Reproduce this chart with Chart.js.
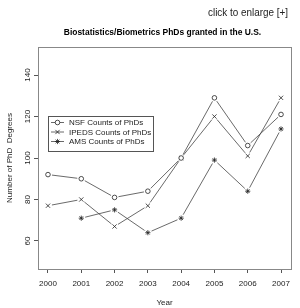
<!DOCTYPE html>
<html>
<head>
<meta charset="utf-8">
<script src="https://cdn.jsdelivr.net/npm/chart.js@4.4.0/dist/chart.umd.min.js"></script>
<style>
  body { margin: 0; background: #fff; }
  #wrap { position: relative; width: 300px; height: 308px; }
  #phdChart { position: absolute; left: 0; top: 0; }
  .enlarge {
    position: absolute; left: 208px; top: 6px; white-space: nowrap;
    font: 11px "Liberation Sans", sans-serif; color: #222;
    transform: scaleX(0.9); transform-origin: left top;
  }
  .title {
    position: absolute; left: 0; width: 325px; top: 27px; text-align: center;
    font: bold 9px "Liberation Sans", sans-serif; color: #000;
    transform: scaleX(0.94); transform-origin: 162.5px 0;
  }
</style>
</head>
<body>
<div id="wrap">
  <canvas id="phdChart" width="300" height="308"></canvas>
  <div class="enlarge">click to enlarge [+]</div>
  <div class="title">Biostatistics/Biometrics PhDs granted in the U.S.</div>
</div>
<script>
const years = [2000, 2001, 2002, 2003, 2004, 2005, 2006, 2007];
const nsfCounts = [92, 90, 81, 84, 100, 129, 106, 121];
const ipedsCounts = [77, 80, 67, 77, 100, 120, 101, 129];
const amsCounts = [null, 71, 75, 64, 71, 99, 84, 114];
const yTicks = [60, 80, 100, 120, 140];

const toPoints = vals => years.map((y, i) => ({ x: y, y: vals[i] }));
const ink = "#222";
const font = { family: "'Liberation Sans', Arial, sans-serif", size: 8 };

// R style type="b": line segments stop short of each point
const gappedLines = {
  id: "gappedLines",
  beforeDatasetsDraw(chart) {
    const ctx = chart.ctx;
    const gap = 4;
    ctx.save();
    ctx.strokeStyle = "#444";
    ctx.lineWidth = 0.8;
    chart.data.datasets.forEach((ds, di) => {
      const pts = chart.getDatasetMeta(di).data;
      for (let i = 0; i < pts.length - 1; i++) {
        if (ds.data[i].y == null || ds.data[i + 1].y == null) continue;
        const a = pts[i], b = pts[i + 1];
        const dx = b.x - a.x, dy = b.y - a.y;
        const len = Math.hypot(dx, dy);
        if (len <= gap * 2) continue;
        const ux = dx / len, uy = dy / len;
        ctx.beginPath();
        ctx.moveTo(a.x + ux * gap, a.y + uy * gap);
        ctx.lineTo(b.x - ux * gap, b.y - uy * gap);
        ctx.stroke();
      }
    });
    ctx.restore();
  }
};

// box round the plot and legend in the upper left
const frameAndLegend = {
  id: "frameAndLegend",
  afterDraw(chart) {
    const ctx = chart.ctx;
    const area = chart.chartArea;
    ctx.save();
    ctx.strokeStyle = "#888";
    ctx.lineWidth = 1;
    ctx.strokeRect(Math.round(area.left) + 0.5, Math.round(area.top) + 0.5,
      Math.round(area.right - area.left), Math.round(area.bottom - area.top));

    const lx = area.left + 10, ly = 116, lw = 105, lh = 35;
    ctx.strokeStyle = "#555";
    ctx.strokeRect(lx + 0.5, ly + 0.5, lw, lh);
    ctx.font = "8px 'Liberation Sans', Arial, sans-serif";
    ctx.textBaseline = "middle";
    ctx.fillStyle = ink;
    chart.data.datasets.forEach((ds, i) => {
      const y = ly + 6.5 + i * 9.5;
      ctx.strokeStyle = "#444";
      ctx.lineWidth = 0.8;
      ctx.beginPath();
      ctx.moveTo(lx + 3, y); ctx.lineTo(lx + 16, y);
      ctx.stroke();
      ctx.strokeStyle = ink;
      ctx.fillStyle = "#fff";
      Chart.helpers.drawPoint(ctx, {
        pointStyle: ds.pointStyle, radius: ds.pointRadius, borderWidth: 0.8, rotation: 0
      }, lx + 9.5, y);
      ctx.fillStyle = ink;
      ctx.fillText(ds.label, lx + 21, y + 0.5);
    });
    ctx.restore();
  }
};

const pointDefaults = {
  showLine: false,
  borderColor: ink,
  backgroundColor: "#fff",
  pointBorderWidth: 0.8,
  pointHoverRadius: 3
};

new Chart(document.getElementById("phdChart"), {
  type: "line",
  data: {
    datasets: [
      { ...pointDefaults, label: "NSF Counts of PhDs", data: toPoints(nsfCounts), pointStyle: "circle", pointRadius: 2.3 },
      { ...pointDefaults, label: "IPEDS Counts of PhDs", data: toPoints(ipedsCounts), pointStyle: "crossRot", pointRadius: 3 },
      { ...pointDefaults, label: "AMS Counts of PhDs", data: toPoints(amsCounts), pointStyle: "star", pointRadius: 2.6 }
    ]
  },
  options: {
    responsive: false,
    animation: false,
    layout: { padding: { top: 47, right: 9, left: 0, bottom: 0 } },
    plugins: {
      legend: { display: false },
      tooltip: { enabled: false }
    },
    scales: {
      x: {
        type: "linear",
        min: 1999.7,
        max: 2007.3,
        afterBuildTicks: scale => { scale.ticks = years.map(v => ({ value: v })); },
        afterFit: scale => { scale.height = 39; },
        grid: { display: true, drawOnChartArea: false, drawTicks: true, tickLength: 4, color: "#555" },
        border: { display: false },
        ticks: { color: ink, font, padding: 6, maxRotation: 0, callback: v => String(v) },
        title: { display: true, text: "Year", color: ink, font, padding: { top: 4, bottom: 0 } }
      },
      y: {
        min: 46.5,
        max: 153.5,
        afterBuildTicks: scale => { scale.ticks = yTicks.map(v => ({ value: v })); },
        afterFit: scale => { scale.width = 38; },
        grid: { display: true, drawOnChartArea: false, drawTicks: true, tickLength: 4, color: "#555" },
        border: { display: false },
        ticks: { color: ink, font, padding: 0, minRotation: 90, maxRotation: 90, crossAlign: "center" },
        title: { display: true, text: "Number of PhD  Degrees", color: ink, font, padding: { top: 5, bottom: 0 } }
      }
    }
  },
  plugins: [gappedLines, frameAndLegend]
});
</script>
</body>
</html>
